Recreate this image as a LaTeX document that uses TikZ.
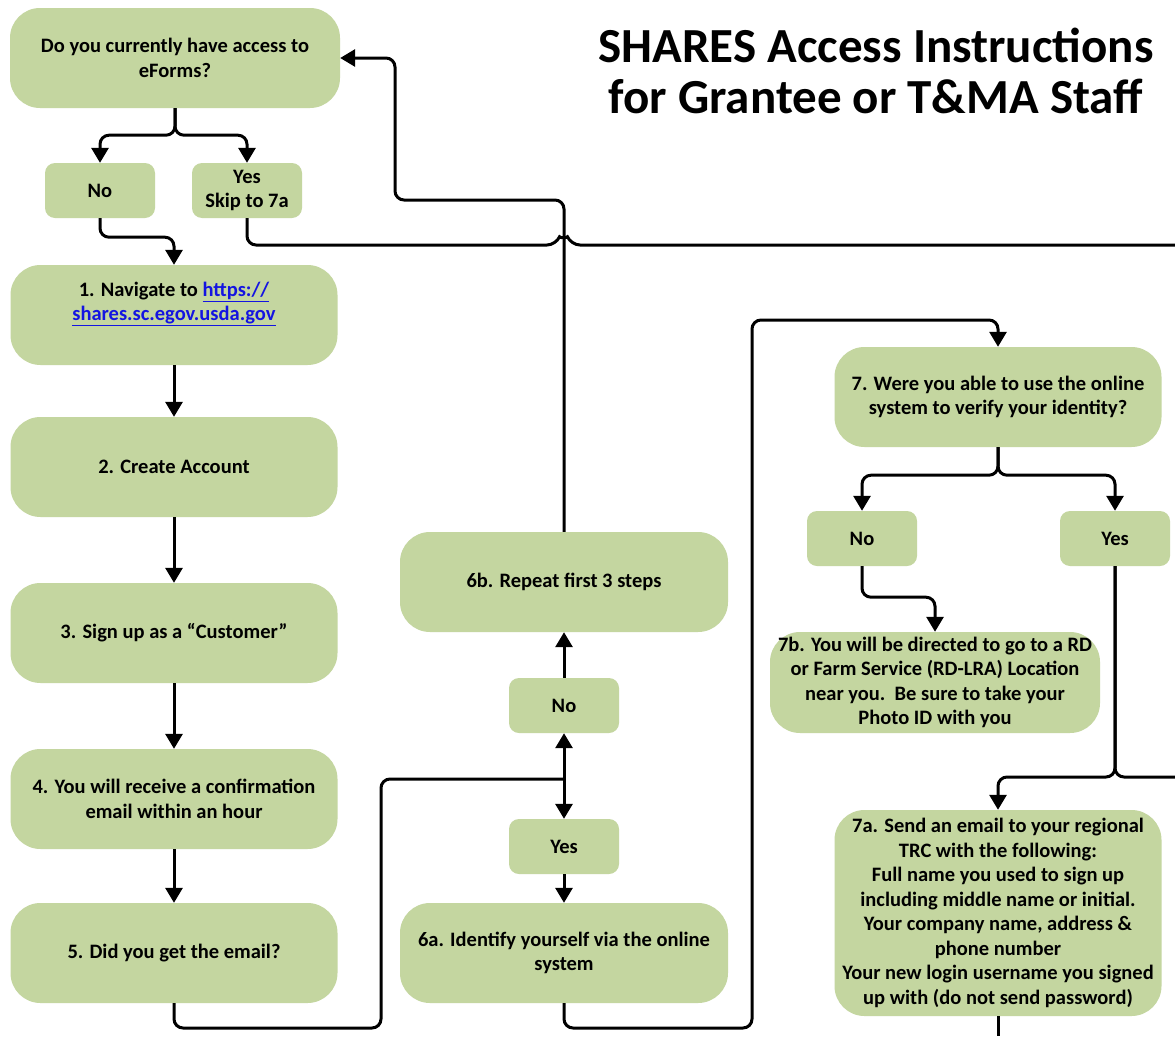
\documentclass[tikz,border=0pt]{standalone}
\usepackage{fontspec}
\setmainfont{Carlito}
\usetikzlibrary{arrows.meta}
\definecolor{boxgreen}{RGB}{196,214,160}
\definecolor{linkblue}{RGB}{20,20,225}
\newcommand{\lnk}[1]{\textcolor{linkblue}{\underline{#1}}}
\tikzset{
  boxtext/.style={align=center, inner sep=2pt, font=\fontsize{20.5}{24.5}\selectfont\bfseries},
  bigbox/.style={boxtext, fill=boxgreen, rounded corners=30pt, minimum width=327pt, minimum height=100pt},
  smallbox/.style={boxtext, fill=boxgreen, rounded corners=10pt, minimum width=110pt, minimum height=55pt},
  conn/.style={line width=3pt, rounded corners=9pt, -{Triangle[width=17pt,length=15pt]}},
  plain/.style={line width=3pt, rounded corners=9pt},
  titletext/.style={anchor=base, inner sep=0pt, font=\fontsize{49}{50}\selectfont\bfseries}
}
\begin{document}
\begin{tikzpicture}[x=1pt,y=-1pt]
\useasboundingbox (0,0) rectangle (1175,1036);
\fill[white] (0,0) rectangle (1175,1036);

% title
\node[titletext] (title1) at (876,62) {SHARES Access Instructions};
\node[titletext] (title2) at (876,113) {for Grantee or T\&MA Staff};

% boxes
\node[bigbox, minimum width=330pt] (Q0) at (175,58) {Do you currently have access to\\eForms?};
\node[smallbox] (No1) at (100,190.5) {No};
\node[smallbox] (Yes1) at (247,190.5) {Yes\\Skip to 7a};
\node[bigbox] (S1) at (174,315) {};
\node[boxtext] (S1text) at (174,304) {1. Navigate to \lnk{https://}\\\lnk{shares.sc.egov.usda.gov}};
\node[bigbox] (S2) at (174,467) {2. Create Account};
\node[bigbox] (S3) at (174,633) {3. Sign up as a “Customer”};
\node[bigbox] (S4) at (174,799) {4. You will receive a confirmation\\email within an hour};
\node[bigbox] (S5) at (174,953) {5. Did you get the email?};

\node[bigbox, minimum width=328pt] (B6) at (564,582) {6b. Repeat first 3 steps};
\node[smallbox] (No6) at (564,705.5) {No};
\node[smallbox] (Yes6) at (564,846.5) {Yes};
\node[bigbox, minimum width=328pt] (A6) at (564,953) {6a. Identify yourself via the online\\system};

\node[bigbox] (Q7) at (998,397) {7. Were you able to use the online\\system to verify your identity?};
\node[smallbox] (No7) at (862,538.5) {No};
\node[smallbox] (Yes7) at (1115,538.5) {Yes};
\node[bigbox, minimum width=330pt, minimum height=101pt] (B7) at (935,682.5) {7b. You will be directed to go to a RD\\or Farm Service (RD-LRA) Location\\near you.\ \ Be sure to take your\\Photo ID with you};
\node[bigbox, minimum height=206pt] (A7) at (998,913) {7a. Send an email to your regional\\TRC with the following:\\Full name you used to sign up\\including middle name or initial.\\Your company name, address \&\\phone number\\Your new login username you signed\\up with (do not send password)};

% free ends at the picture's edge
\coordinate (e1) at (1175,245);
\coordinate (e2) at (1175,777);
\coordinate (e3) at (998,1036);
\coordinate (J6) at (564,779);

% connectors
\draw[conn] (Q0.south) -- ++(0,27) -| (No1.north);
\draw[conn] (Q0.south) -- ++(0,27) -| (Yes1.north);
\draw[conn] (No1.south) -- ++(0,19) -| (S1.north);
\draw[plain] (Yes1.south) |- (556,245) .. controls (559,238) and (568,238) .. (571,245) -- (e1);
\draw[conn] (S1) -- (S2);
\draw[conn] (S2) -- (S3);
\draw[conn] (S3) -- (S4);
\draw[conn] (S4) -- (S5);
\draw[conn] (B6.north) |- (395,200) |- (Q0.east);
\draw[plain] (S5.south) |- (381,1028) |- (J6);
\draw[conn] (J6) -- (No6.south);
\draw[conn] (J6) -- (Yes6.north);
\draw[conn] (No6) -- (B6);
\draw[conn] (Yes6) -- (A6);
\draw[conn] (A6.south) |- (752,1028) -- (752,320) -| (Q7.north);
\draw[conn] (Q7.south) -- ++(0,28) -| (No7.north);
\draw[conn] (Q7.south) -- ++(0,28) -| (Yes7.north);
\draw[conn] (No7.south) -- ++(0,31) -| (B7.north);
\draw[conn] (Yes7.south) |- (998,777) -- (A7.north);
\draw[plain] (Yes7.south) |- (e2);
\draw[plain] (A7.south) -- (e3);
\end{tikzpicture}
\end{document}
